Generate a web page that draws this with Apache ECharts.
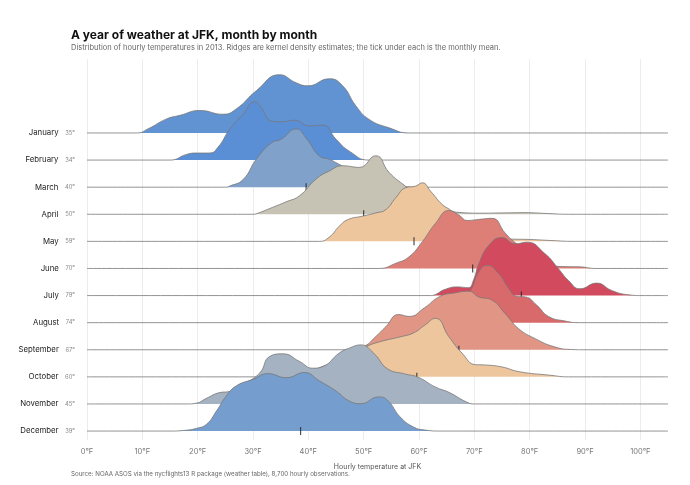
<!DOCTYPE html>
<html>
<head>
<meta charset="utf-8">
<script src="https://cdn.jsdelivr.net/npm/echarts@6/dist/echarts.min.js"></script>
<style>
  html, body { margin: 0; padding: 0; background: #fff; }
  #main { width: 690px; height: 485px; }
</style>
</head>
<body>
<div id="main"></div>
<script>
// months, monthly means (°F) and the ridge outline of each month:
// [temperature °F, ridge height in row units]
const months = ['January', 'February', 'March', 'April', 'May', 'June',
  'July', 'August', 'September', 'October', 'November', 'December'];
const means = [35.0, 34.2, 39.6, 50.0, 59.1, 69.7, 78.5, 74.0, 67.2, 59.6, 45.1, 38.6];
const colors = ['#6192d2', '#5a8fd5', '#80a1c9', '#c6c3b4', '#edc69e', '#de7f77',
  '#d24a5e', '#d96a6b', '#e09585', '#edc69e', '#a4b2c1', '#759dcd'];

const jan = [[9,0],[11,0.15],[14.4,0.52],[16.8,0.65],[20.4,0.83],[24.6,0.69],[27,0.89],[30.6,1.56],[34.8,2.15],[37.8,1.85],[39.9,1.74],[43.8,2.0],[46.2,1.74],[48.6,1.0],[51,0.5],[54.6,0.19],[58.2,0]];
const feb = [[15,0],[18,0.21],[19.8,0.26],[22.2,0.26],[23.7,0.48],[25.8,1.14],[28.2,1.69],[30.3,2.15],[31.5,1.93],[33.3,1.44],[35.1,1.41],[37.5,1.47],[40.2,1.26],[42.6,1.29],[45,0.77],[47.4,0.33],[51,0]];
const mar = [[25,0],[25.8,0.04],[28.2,0.28],[30.6,1.03],[33.3,1.63],[35.1,1.77],[37.8,2.15],[39.6,1.81],[42,1.15],[43.8,1.03],[45.6,0.84],[48,0.6],[51,0.35],[54,0.15],[57,0.03],[60,0]];
const apr = [[30,0],[30.6,0.02],[33,0.21],[36,0.46],[38.4,0.68],[41.4,1.3],[43.8,1.6],[46.2,1.79],[49.2,1.73],[52.2,2.16],[54.6,1.54],[57.6,1.03],[60.6,0.56],[64.8,0.19],[67.8,0.06],[71.5,0.04],[75,0.05],[79.2,0.06],[83,0.03],[87,0]];
const may = [[42,0],[43.8,0.16],[45.6,0.56],[47.1,0.8],[49.8,0.93],[52.2,1.05],[54,1.17],[55.8,1.61],[57.6,1.98],[59.4,2.04],[60.6,2.16],[62.1,1.85],[64.2,1.36],[66,1.1],[68,0.6],[70,0.3],[72,0.15],[76,0.09],[80,0.07],[84,0.03],[88,0]];
const jun = [[52.8,0],[55.8,0.19],[58.2,0.43],[60.6,0.99],[63,1.67],[65.4,2.14],[67.2,1.97],[68.7,1.77],[70.8,1.81],[73.2,1.85],[75.6,1.3],[77.4,0.95],[80,0.6],[83,0.2],[86,0.07],[89,0.06],[92,0]];
const jul = [[62,0],[63,0.04],[64.6,0.22],[67,0.32],[68.9,0.29],[69.9,0.6],[70.8,1.17],[72.6,1.85],[75,2.14],[77.4,1.91],[79.5,1.97],[82.8,1.54],[85.2,0.99],[87,0.56],[89.1,0.25],[92.1,0.46],[94.8,0.19],[97.8,0.03],[100.3,0]];
const aug = [[60,0],[63,0.1],[66,0.4],[68,0.85],[69.4,1.2],[70.8,1.87],[72.3,2.12],[74.4,1.81],[76.2,1.26],[77.7,0.97],[79.2,0.95],[81.3,0.64],[83.4,0.23],[86.4,0.06],[89,0]];
const sep = [[48,0],[50.3,0.15],[52,0.45],[54,0.85],[56.3,1.3],[58.2,1.23],[61,1.55],[63.8,1.97],[66.5,2.1],[69,2.16],[70.8,1.95],[73.2,1.83],[75.6,1.33],[78,0.78],[81,0.41],[84.6,0.1],[87.6,0.01],[90,0]];
const oct = [[36,0],[40,0.12],[42.3,0.36],[45,0.55],[48,0.8],[50.3,1.1],[53,1.3],[56.7,1.48],[59,1.62],[61,1.9],[63,2.16],[65.4,1.48],[67.8,0.87],[70.2,0.45],[71.7,0.44],[74.9,0.37],[78.1,0.19],[83.7,0.06],[87,0]];
const nov = [[18,0],[19.8,0.03],[21.6,0.21],[24,0.42],[25.8,0.46],[28,0.7],[31.2,1.14],[33,1.75],[35.4,1.85],[38.4,1.57],[40.8,1.32],[42.6,1.38],[45.6,1.88],[47.4,2.06],[49.5,2.18],[51.9,1.85],[54.3,1.3],[57.4,1.11],[59.8,0.99],[63,0.62],[65.4,0.43],[68.6,0.07],[70,0]];
const dec = [[15,0],[17.4,0.02],[19.8,0.1],[21.6,0.25],[23.4,0.74],[25.2,1.3],[27,1.67],[30,1.91],[32.7,2.12],[36,1.97],[39.3,2.16],[42,1.85],[45,1.48],[47.4,1.11],[49.5,1.01],[52.7,1.26],[54.3,1.14],[56.6,0.52],[59,0.15],[61,0.04],[64,0]];

const ridges = [jan, feb, mar, apr, may, jun, jul, aug, sep, oct, nov, dec];
const tempMin = 0, tempMax = 105;
const font = 'Inter';

var myChart = echarts.init(document.getElementById('main'));

let series = [];
ridges.forEach((ridge, i) => {
  const base = 11 - i; // January on top
  // each month on its own z so later ridges fully cover earlier ones (line included)
  series.push({
    type: 'line',
    name: months[i],
    z: 10 + 2 * i,
    data: [[tempMin, base]].concat(ridge.map((p) => [p[0], base + p[1]]), [[tempMax, base]]),
    smooth: 0.5,
    showSymbol: false,
    silent: true,
    lineStyle: { color: '#777', width: 0.8 },
    areaStyle: { color: colors[i], opacity: 1, origin: base }
  });
  // little tick for the monthly mean
  series.push({
    type: 'scatter',
    z: 11 + 2 * i,
    data: [[means[i], base]],
    symbol: 'rect',
    symbolSize: [1.2, 8],
    silent: true,
    itemStyle: { color: '#222' }
  });
});

var option = {
  animation: false,
  title: [
    {
      text: 'A year of weather at JFK, month by month',
      left: 71, top: 29, padding: 0,
      textStyle: { fontFamily: font, fontSize: 12, fontWeight: 'bold', color: '#111' }
    },
    {
      text: 'Distribution of hourly temperatures in 2013. Ridges are kernel density estimates; the tick under each is the monthly mean.',
      left: 71, top: 44, padding: 0,
      textStyle: { fontFamily: font, fontSize: 7.5, fontWeight: 'normal', color: '#666' }
    },
    {
      text: 'Source: NOAA ASOS via the nycflights13 R package (weather table), 8,700 hourly observations.',
      left: 71, top: 471.5, padding: 0,
      textStyle: { fontFamily: font, fontSize: 6.2, fontWeight: 'normal', color: '#666' }
    }
  ],
  grid: { left: 87, right: 22, top: 59, bottom: 45 },
  xAxis: {
    type: 'value',
    min: tempMin,
    max: tempMax,
    interval: 10,
    name: 'Hourly temperature at JFK',
    nameLocation: 'middle',
    nameGap: 23,
    nameTextStyle: { fontFamily: font, fontSize: 7, color: '#555' },
    axisLine: { show: false },
    axisTick: { show: false },
    axisLabel: {
      fontFamily: font, fontSize: 7.5, color: '#777', margin: 8,
      showMaxLabel: false,
      formatter: (v) => v + '°F'
    },
    splitLine: { show: true, showMaxLine: false, lineStyle: { color: '#ececec', width: 1 } }
  },
  yAxis: {
    type: 'value',
    min: -0.33,
    max: 13.73,
    axisLine: { show: false },
    axisTick: { show: false },
    splitLine: { show: false },
    axisLabel: {
      customValues: [0, 1, 2, 3, 4, 5, 6, 7, 8, 9, 10, 11],
      margin: 12,
      formatter: (v) => {
        const i = 11 - Math.round(v);
        return '{m|' + months[i] + '}  {v|' + Math.round(means[i]) + '°}';
      },
      rich: {
        m: { fontFamily: font, fontSize: 7.8, color: '#222' },
        v: { fontFamily: font, fontSize: 5.8, color: '#888' }
      }
    }
  },
  series: series
};
myChart.setOption(option);
</script>
</body>
</html>
